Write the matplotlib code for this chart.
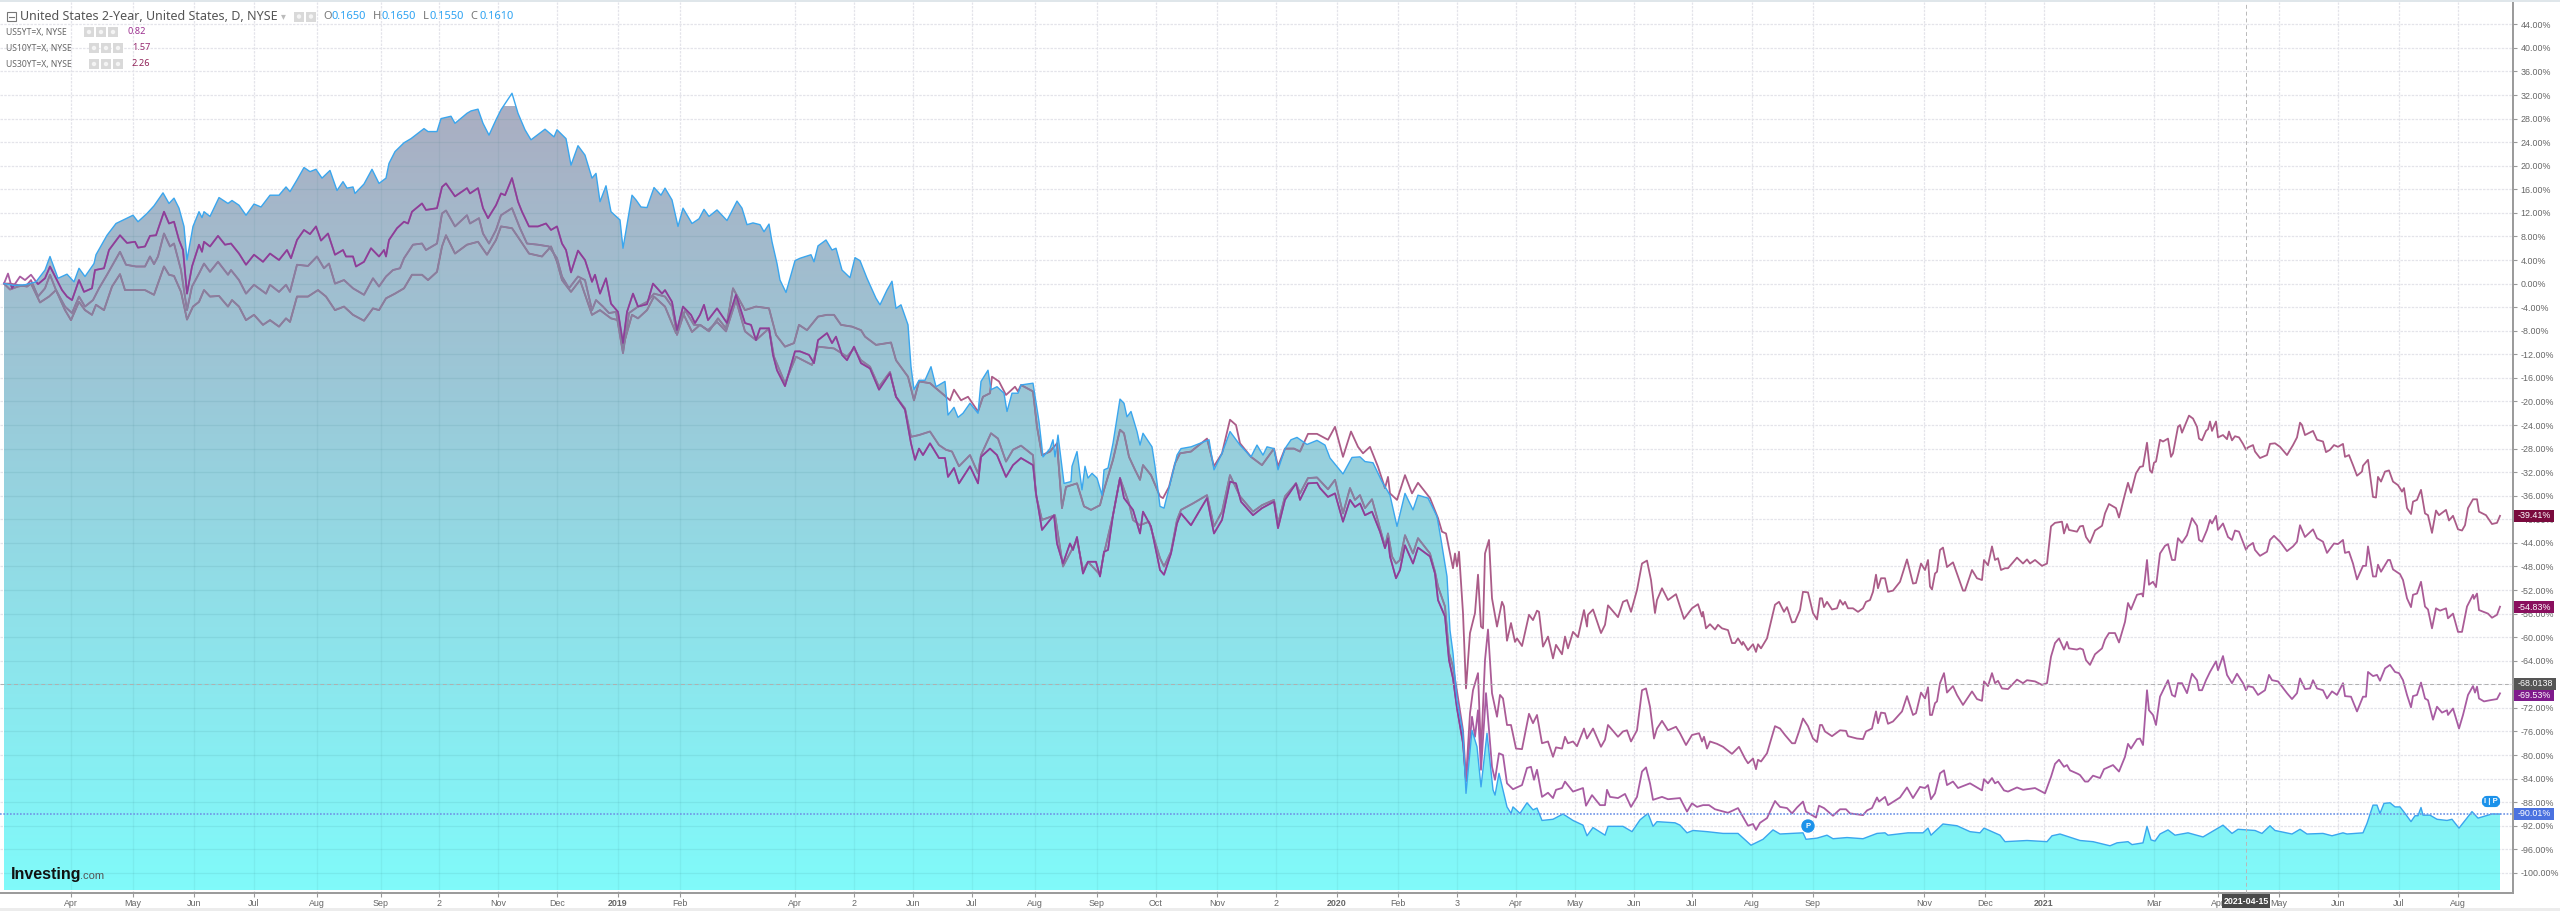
import numpy as np
import matplotlib
matplotlib.use('Agg')
import matplotlib.pyplot as plt
from matplotlib.colors import LinearSegmentedColormap
from matplotlib.patches import Rectangle, Circle, FancyBboxPatch

# (session position, % change)
us2y = np.array([(4,0),(14,-.3),(25,-.2),(36,.3),(45,2.3),(50,4.6),(58,.9),(67,1.6),(74,.3),(79,2.6),(85,1.2),(94,3.4),(96,4.9),(107,8.2),(116,10.2),(133,11.6),(138,10.5),(147,11.9),(154,13.2),(163,15.4),(169,13.6),(174,14.5),(179,12.8),(184,9.7),(187,4),(193,9.7),(199,12.2),(202,11.2),(204,12.2),(210,11.4),(219,14.6),(228,13.6),(232,14.1),(239,13.3),(246,11.6),(254,13.5),(261,13),(270,15),(279,15),(286,16.4),(290,15.6),(297,17.6),(304,19.7),(310,19),(316,19.4),(322,17.9),(330,19.2),(337,15.8),(343,17.3),(347,16.2),(353,16.4),(355,15.3),(364,16.9),(372,19.4),(379,17),(386,17.9),(389,20.4),(395,22.4),(404,23.9),(411,24.6),(424,26.3),(428,25.8),(437,25.8),(441,28),(451,28.4),(455,27.2),(467,28.9),(471,29.3),(478,29.6),(483,27.2),(489,25.2),(496,27.8),(501,29.5),(512,32.3),(518,28.9),(525,26.1),(531,24.4),(545,26.2),(554,24.9),(557,26.1),(566,24.6),(571,20.1),(578,23.4),(585,21.8),(592,17.9),(596,18.7),(600,13.9),(606,16.6),(611,12.2),(620,10.8),(623,6),(632,15),(636,14.2),(641,13),(647,12.9),(654,16.3),(661,15),(665,16.2),(672,14.2),(678,9.7),(683,12.8),(692,10.2),(699,11),
    (704,12.6),(709,11.4),(717,12.5),(727,10.7),(737,14),(742,12.8),(747,10),(753,10.3),(760,10),(764,8.8),(769,10.1),(772,7.1),(777,3.4),(780,.6),(786,-1.5),(795,3.9),(800,4.3),(811,4.9),(814,3.7),(818,6.4),(826,7.4),(832,5.7),(836,6),(842,2.3),(850,1),(855,4.4),(860,3.9),(867,.9),(876,-2.5),(880,-3.6),(887,-1.1),(892,.4),(896,-4.2),(901,-3.6),(908,-7),(911,-14.1),(914,-18),(919,-16.4),(925,-16.4),(931,-14.1),(936,-17.5),(945,-16.6),(948,-22.3),(954,-21),(958,-22.7),(963,-22),(970,-20.3),(978,-22),(981,-16.6),(988,-14.7),(991,-18),(997,-17.5),(1004,-18.6),(1007,-21.7),(1012,-18.6),(1018,-18.6),(1021,-17.2),(1033,-16.9),(1039,-23.4),(1043,-29.4),(1050,-28),(1053,-26.5),(1055,-29.4),(1058,-25.7),(1064,-33.9),(1071,-33.6),(1072,-31),(1077,-28.5),(1082,-35),(1085,-31),(1088,-33),(1092,-32.2),(1097,-33),(1102,-35.9),(1104,-31.6),(1108,-31.3),(1113,-27.1),(1120,-19.6),(1124,-20.3),(1127,-22.6),(1131,-21.7),(1137,-25.1),(1140,-27.4),(1143,-25.4),(1152,-27.7),(1155,-31),(1160,-37.8),(1164,-38.1),(1171,-33.3),(1177,-29.1),(1181,-28),(1191,-27.7),(1209,-26.5),(1214,-31.6),(1222,-28.8),(1230,-25.1),(1240,-27.4),(1251,-29.4),(1257,-27.4),(1263,-29.1),(1267,-27.7),(1274,-28),(1278,-31.6),(1285,-28),(1291,-26.5),(1297,-26.1),
    (1307,-27.3),(1317,-26.6),(1325,-27.4),(1330,-29.6),(1343,-32.3),(1352,-29.5),(1360,-29.4),(1365,-30.2),(1373,-30.4),(1382,-33.6),(1390,-35.9),(1397,-41.2),(1405,-35.6),(1413,-38.4),(1418,-35.9),(1428,-36.4),(1437,-39.5),(1440,-42.4),(1447,-49.7),(1450,-58.8),(1453,-62.7),(1457,-70.7),(1463,-76.3),(1466,-86.5),(1472,-75.8),(1477,-78.6),(1481,-85.4),(1487,-76.3),(1493,-85.9),(1495,-86.8),(1499,-83.1),(1507,-88.8),(1511,-89.9),(1513,-88.8),(1520,-89.9),(1527,-88.1),(1533,-89.3),(1537,-89),(1542,-91.1),(1553,-90.9),(1563,-90),(1573,-91.1),(1583,-91.9),(1587,-93.7),(1593,-92.3),(1605,-93.6),(1608,-92.1),(1623,-92.1),(1632,-93),(1640,-91),(1648,-89.9),(1653,-92.1),(1657,-91.3),(1675,-91.5),
    (1680,-91.9),(1687,-93.2),(1693,-92.8),(1707,-93),(1723,-93.3),(1738,-93.3),(1751,-95.3),(1763,-94.3),(1773,-92.7),(1780,-93.4),(1803,-93.2),(1806,-94.3),(1817,-94.1),(1827,-93.6),(1833,-94.2),(1847,-94),(1863,-94.2),(1877,-93.3),(1885,-93.2),(1888,-93.6),(1908,-93.2),(1923,-93.2),(1928,-92.4),(1931,-93.6),(1943,-91.7),(1957,-92),(1970,-93),(1980,-93.2),(1984,-92.4),(2000,-93.6),(2005,-94.7),(2027,-94.5),(2047,-94.7),(2052,-93.7),(2060,-93.4),
    (2080,-94.5),(2093,-94.7),(2110,-95.4),(2117,-94.9),(2128,-94.7),(2132,-95.2),(2143,-94.9),(2147,-92.1),(2151,-94.4),(2155,-94.6),(2160,-93.4),(2168,-92.7),(2175,-93.6),(2188,-93.2),(2203,-93.9),(2215,-92.7),(2223,-91.9),(2232,-93.3),(2238,-92.6),(2255,-92.8),(2262,-93.3),(2270,-92),(2275,-92.8),(2292,-93.4),(2300,-92.6),(2307,-93.4),(2323,-93.3),(2332,-93.7),(2343,-93.2),(2347,-93.4),(2363,-93.2),(2367,-91.6),(2373,-88.5),(2377,-88.5),(2380,-89.9),(2384,-88.2),(2390,-88.1),(2395,-88.8),(2400,-88.8),(2405,-89.9),(2411,-91.3),(2415,-90.3),(2418,-90.3),(2421,-88.9),(2423,-90.2),(2430,-90.2),(2437,-90.9),(2447,-91.1),(2452,-90.9),(2459,-92.4),(2472,-89.6),(2478,-90.7),(2492,-90),(2500,-90.01)])

us5y = np.array([(4,0),(8,1.7),(12,-.8),(20,1.2),(25,.6),(31,1.5),(38,-.1),(45,.9),(50,2.9),(56,.9),(62,-1.1),(67,-2.2),(72,-2.8),(79,.6),(84,-1.4),(92,-.8),(95,2.3),(104,2.6),(109,5.7),(120,8.2),(127,6.9),(135,7.1),(138,6.1),(145,6.3),(150,8.1),(156,8.2),(164,12.2),(169,10.2),(174,10.5),(179,7.4),(183,5.7),(187,-1.7),(192,2.9),(199,6.6),(202,5.4),(204,7.1),(210,6.3),(218,8.1),(225,6.6),(231,6.8),(239,5.1),(246,3.2),(254,4.9),(263,3.7),(270,5.1),(279,4),(287,5.7),(291,4.3),(297,7.4),(304,9.1),(310,8.4),(316,9.7),(321,7.3),(328,8.5),(335,4.9),(343,5.7),(346,4.6),(353,4.6),(356,2.9),(364,3.7),(371,6),(379,4.6),(384,5.7),(386,4.6),(389,7.4),(397,9.4),(404,10.5),(408,10.2),(412,12.2),(422,13.6),(426,12.5),(437,12.8),(442,16.4),(446,17),(455,14.8),(467,16.2),(470,15.3),(478,16.2),(483,12.8),(488,11.1),(496,13.3),(501,15.3),(505,15),(512,17.9),(518,13.9),(522,12.2),(529,9.7),(538,9.7),(546,10.2),(551,9.1),(557,9.7),(562,6.8),(566,5.7),(571,1.9),(578,5.6),(585,4),(592,.3),(595,1.5),(600,-1.7),(606,.9),(611,-3.4),(618,-4.8),(623,-10.1),(627,-4.8),(633,-1.7),(638,-3.9),(647,-3.5),(653,0),(662,-1.7),(665,-1.1),(672,-3.1),(677,-7.9),(683,-3.9),(691,-5.3),(695,-6.7),
    (700,-5.3),(704,-3.6),(708,-6.2),(717,-4.2),(727,-6.7),(736,-1.9),(745,-6.7),(751,-7),(756,-9.6),(760,-7.6),(769,-7.6),(773,-12.1),(777,-14.7),(785,-17.4),(795,-11.5),(800,-11.5),(809,-12.1),(814,-13.5),(818,-9.6),(827,-8.4),(832,-10.1),(836,-9),(842,-12.1),(847,-13),(854,-10.7),(861,-13.5),(870,-14.4),(879,-18),(890,-15.2),(896,-19.2),(905,-21.4),(911,-27.1),(915,-29.9),(919,-28),(923,-29.1),(930,-27.1),(939,-29.6),(945,-29.6),(948,-32.8),(954,-31.3),(959,-33.9),(970,-31),(978,-33.9),(981,-29.4),(990,-28),(997,-29.1),(1006,-32.8),(1013,-30.8),(1021,-29.6),(1033,-30.8),(1036,-35.6),(1042,-41.8),(1050,-40.1),(1054,-39.3),(1057,-44.1),(1063,-47.5),(1070,-44.1),(1073,-45.2),(1077,-43),(1083,-49.2),(1088,-47.2),(1096,-47.2),(1100,-49.7),(1104,-45.5),(1108,-45.2),(1113,-39.3),(1120,-33),(1124,-36.4),(1133,-38.4),(1140,-42.4),(1143,-38.7),(1151,-41.2),(1160,-48.6),(1164,-49.4),(1171,-45.8),(1177,-40.7),(1181,-39),(1191,-41),(1207,-36.4),(1214,-42.4),(1222,-40.1),(1230,-33.6),(1236,-33.9),(1241,-37),(1253,-39.3),(1262,-38.1),(1274,-37),(1278,-41.5),(1285,-36.7),(1296,-33.9),
    (1300,-36.7),(1308,-33.9),(1317,-33.8),(1320,-34.7),(1328,-36.2),(1335,-35.6),(1343,-40.4),(1350,-36.7),(1355,-37.9),(1360,-37.3),(1365,-39.3),(1372,-38.7),(1380,-42.1),(1385,-44.9),(1388,-43.2),(1390,-46.3),(1396,-50),(1400,-48.6),(1405,-44.4),(1413,-47.5),(1418,-44.8),(1430,-46.3),(1435,-49.2),(1438,-53.7),(1445,-56.5),(1449,-63.9),(1453,-67),(1457,-72.1),(1463,-78),(1466,-84.5),(1472,-73.5),(1475,-76.9),(1478,-72.4),(1481,-82.5),(1486,-69.5),(1492,-82),(1495,-84.2),(1499,-79.7),(1503,-80),(1507,-84.8),(1513,-85.8),(1522,-85.1),(1527,-82.2),(1531,-82),(1534,-84.2),(1537,-82.5),(1542,-87.1),(1548,-86.4),(1553,-87.3),(1556,-85.9),(1562,-85.6),(1565,-84.5),(1573,-86.2),(1583,-85.6),(1586,-88.6),(1592,-86.8),(1600,-88.5),(1605,-88.5),(1607,-85.9),(1610,-87.1),(1618,-87.3),(1625,-86.6),(1631,-88.8),(1637,-87.1),(1642,-82.8),(1646,-82.1),(1650,-84.8),(1653,-87.6),(1662,-87.1),(1668,-87.5),
    (1680,-87.3),(1687,-89.6),(1692,-88.2),(1697,-88.8),(1703,-88.5),(1709,-88.5),(1715,-89.2),(1728,-89.8),(1738,-89),(1748,-92),(1753,-91.7),(1756,-92.7),(1760,-91.5),(1767,-90.7),(1775,-87.8),(1780,-88.8),(1787,-89),(1792,-89.9),(1797,-88.9),(1803,-87.9),(1806,-89.6),(1816,-90.6),(1819,-88.6),(1824,-89),(1833,-90.3),(1840,-89.2),(1846,-89.2),(1850,-89.9),(1863,-90.2),(1867,-89.4),(1872,-89),(1877,-87.2),(1879,-87.9),(1885,-87.1),(1888,-88.5),(1900,-87.2),(1907,-85.5),(1913,-87.3),(1920,-85.4),(1925,-85.6),(1928,-85.1),(1931,-87.5),(1935,-86.5),(1940,-83.1),(1944,-82.6),(1947,-85.1),(1953,-84.5),(1958,-85.6),(1970,-84.8),(1982,-86),(1984,-84.1),(1988,-84.8),(1992,-83.9),(1995,-84.8),(1998,-84.5),(2004,-86),(2008,-86.2),(2017,-85.5),(2023,-85.9),(2035,-85.6),(2045,-86.5),(2051,-83.7),(2055,-81.5),(2059,-80.8),(2064,-82),(2067,-81.7),(2070,-82.6),(2078,-83.2),
    (2080,-83.4),(2085,-84.5),(2088,-84.5),(2093,-83.5),(2100,-83.9),(2104,-82.4),(2113,-81.7),(2119,-82.8),(2125,-80.3),(2128,-78.1),(2131,-78.9),(2137,-77.3),(2140,-77.2),(2143,-78.3),(2147,-69),(2149,-72.4),(2153,-73.2),(2156,-74.9),(2160,-70.1),(2168,-67.3),(2172,-69.8),(2175,-70.1),(2178,-67.8),(2182,-67.8),(2187,-69.5),(2192,-66.2),(2197,-67.3),(2199,-69),(2202,-69),(2206,-67.3),(2210,-65.9),(2216,-64.1),(2218,-65.6),(2223,-63.2),(2227,-66.4),(2232,-67.8),(2237,-66.2),(2243,-67.8),(2246,-69),(2248,-68.3),(2253,-68.5),(2258,-69.8),(2265,-69),(2269,-66.4),(2272,-67.3),(2278,-67.5),(2287,-69.5),(2292,-70.5),(2297,-69.5),(2300,-67),(2305,-68.8),(2310,-68.7),(2313,-67.3),(2317,-68.7),(2323,-69),(2327,-70.4),(2332,-69.2),(2337,-69.8),(2343,-67.8),(2345,-70),(2351,-70.1),(2357,-72.6),(2363,-70.1),(2366,-70.1),(2368,-65.9),(2373,-66.6),(2377,-66.4),(2380,-67.4),(2385,-65.3),(2390,-64.7),(2395,-65.9),(2399,-66.1),(2403,-67.3),(2407,-69.8),(2411,-71.9),(2413,-70),(2417,-69.8),(2421,-67.7),(2425,-70.4),(2428,-70.7),(2433,-74),(2437,-71.8),(2442,-72.8),(2447,-72.4),(2448,-73.2),(2453,-72.1),(2459,-75.5),(2463,-73.2),(2468,-69.8),(2473,-68.3),(2475,-69.4),(2477,-68.4),(2479,-70.4),(2484,-70.9),(2490,-70.7),(2497,-70.5),(2500,-69.53)])

us10y = np.array([(4,0),(10,-1),(18,-.5),(27,-.2),(31,.6),(38,-2.2),(45,-.8),(50,1.5),(56,-1.1),(65,-3.9),(72,-5),(79,-2.2),(85,-3.9),(93,-2.8),(99,-.8),(107,1.5),(120,5.4),(126,3.2),(136,2.9),(145,2.9),(150,4.6),(154,3.3),(158,4.6),(164,8.5),(170,6.3),(174,6.8),(181,2.3),(187,-4.5),(192,-.5),(199,1.7),(204,3.4),(210,2),(218,3.7),(228,1.5),(231,2.3),(239,.6),(246,-1.7),(254,-.2),(266,-1.7),(270,-.2),(279,-1.4),(286,-.2),(290,-1.4),(297,3.2),(308,3),(317,4.6),(324,2.6),(329,3.4),(335,0),(344,.6),(353,-.8),(364,-1.9),(373,.9),(379,-.5),(386,1.2),(393,2.3),(400,2.6),(404,4.3),(413,6.6),(422,6.8),(426,5.7),(437,6.8),(442,11.9),(446,12.4),(455,9.7),(467,11.6),(470,10.2),(479,11.1),(483,8.5),(489,6.8),(496,9.1),(501,11.6),(512,12.8),(520,9.4),(527,6.8),(538,6.6),(549,6.3),(557,4.3),(562,1.2),(569,-.8),(578,1.2),(585,.6),(592,-4.5),(596,-2.8),(603,-3.9),(609,-5),(616,-4.8),(623,-11.8),(629,-5),(638,-3.9),(647,-3.1),(654,-1.7),(665,-2.2),(672,-3.9),(677,-8.7),(685,-4.5),(694,-7),
    (700,-7),(708,-7.9),(717,-6.5),(726,-8.1),(736,-2.8),(745,-8.1),(756,-9.6),(769,-7.6),(774,-12.4),(785,-16.9),(796,-12.4),(812,-13.8),(818,-10.7),(834,-11),(847,-12.4),(854,-11),(861,-13),(870,-14.1),(879,-17.5),(890,-15),(896,-19.2),(905,-21.2),(911,-26),(919,-25.7),(930,-25.1),(939,-27.4),(946,-28.2),(952,-28.5),(959,-31),(970,-29.1),(978,-32.2),(981,-29.1),(991,-25.4),(998,-26.3),(1006,-30.2),(1013,-28.2),(1021,-27.5),(1033,-29.1),(1036,-35.9),(1042,-40.1),(1055,-39.3),(1063,-48),(1077,-43.5),(1083,-48.6),(1088,-47.2),(1100,-49.4),(1104,-45.8),(1113,-39.3),(1120,-33),(1129,-37.3),(1133,-40.1),(1140,-41),(1149,-40.4),(1160,-46.6),(1164,-48),(1171,-45.5),(1177,-40.1),(1181,-38.4),(1193,-37.3),(1207,-35.9),(1214,-41.2),(1222,-38.7),(1230,-32.5),(1240,-36.1),(1253,-38.7),(1262,-37.6),(1274,-36.7),(1278,-40.7),(1285,-36.1),(1296,-33.9),
    (1300,-35.6),(1308,-33),(1317,-32.9),(1328,-34.9),(1335,-33.3),(1343,-39),(1350,-34.7),(1355,-36.7),(1360,-35.9),(1365,-38.1),(1372,-36.6),(1380,-41.5),(1385,-44.6),(1388,-42.4),(1392,-46.3),(1396,-47.5),(1400,-46.9),(1405,-42.7),(1413,-45.8),(1418,-43.2),(1430,-45.8),(1435,-48.9),(1438,-51.4),(1445,-54.8),(1449,-62.7),(1453,-65),(1457,-69.2),(1463,-75.8),(1466,-84.2),(1470,-72.9),(1473,-69),(1478,-66.1),(1481,-79.7),(1485,-63.9),(1488,-58.7),(1492,-69.5),(1497,-73.5),(1500,-69.8),(1503,-70.4),(1507,-74.9),(1511,-74.9),(1516,-78.9),(1522,-79),(1529,-73),(1533,-74.6),(1537,-73.2),(1542,-78),(1548,-77.7),(1553,-80.3),(1556,-78.7),(1562,-78.9),(1565,-76.9),(1568,-78),(1573,-77.7),(1577,-78.5),(1584,-75.5),(1587,-77.2),(1593,-75.5),(1601,-78.6),(1605,-77.4),(1608,-74.9),(1618,-76.9),(1623,-76),(1627,-75.8),(1631,-77.7),(1637,-75.8),(1642,-69),(1646,-68.7),(1650,-71.8),(1654,-77.2),(1657,-75.5),(1662,-74.2),(1668,-75.8),(1676,-75.2),
    (1680,-76.3),(1686,-78.3),(1692,-76.6),(1699,-76.3),(1702,-77.7),(1704,-76.9),(1707,-78.9),(1710,-77.7),(1717,-78.1),(1723,-78.6),(1732,-79.8),(1739,-78.6),(1745,-80.6),(1748,-81.4),(1753,-80.6),(1756,-82.4),(1758,-80.8),(1761,-81.1),(1767,-79.7),(1775,-75.1),(1780,-75.5),(1785,-76.6),(1792,-78),(1795,-78),(1799,-76),(1803,-73.8),(1808,-75.1),(1813,-77.2),(1817,-77.8),(1820,-74.9),(1822,-74.9),(1825,-76),(1832,-76.8),(1840,-75.8),(1846,-75.9),(1848,-76.8),(1857,-77.2),(1863,-77.3),(1866,-76),(1872,-75.5),(1876,-72.6),(1878,-74.6),(1881,-72.8),(1885,-72.9),(1888,-74.7),(1893,-74.3),(1902,-72.6),(1907,-70),(1913,-73.2),(1916,-72.9),(1921,-69.4),(1925,-70.4),(1928,-68.5),(1930,-73.2),(1932,-73.2),(1935,-71.2),(1937,-70.9),(1940,-67.8),(1944,-66.1),(1947,-69.4),(1953,-68.3),(1957,-69.8),(1963,-71.5),(1972,-69.2),(1977,-70.5),(1982,-70.8),(1984,-67.5),(1988,-68.3),(1992,-66.1),(1995,-67.8),(1998,-67.4),(2002,-68.7),(2008,-68.8),(2017,-67.2),(2023,-67.8),(2027,-67.3),(2035,-67.5),(2042,-68.1),(2047,-67.8),(2051,-63.3),(2055,-61),(2059,-60.2),(2064,-62.1),(2067,-60.8),(2069,-61.9),(2077,-62.1),
    (2080,-61.9),(2083,-62.1),(2086,-63.9),(2090,-64.7),(2095,-62.9),(2102,-61.9),(2105,-60.4),(2109,-59.3),(2115,-59.3),(2119,-60.9),(2125,-57.4),(2128,-54.2),(2131,-55.3),(2137,-52.8),(2142,-52.6),(2143,-53.1),(2147,-46.9),(2149,-51.1),(2153,-50.6),(2156,-51.5),(2160,-45.8),(2165,-44.5),(2168,-44.2),(2172,-46.9),(2175,-46.9),(2178,-43.2),(2182,-44),(2187,-42.7),(2192,-39.8),(2197,-41.1),(2199,-43.5),(2202,-43.8),(2207,-41.8),(2210,-40.1),(2212,-40.7),(2216,-39.4),(2218,-41.8),(2223,-40.7),(2228,-43),(2232,-43.5),(2235,-41.9),(2239,-42.1),(2246,-45.2),(2248,-44.6),(2253,-44),(2255,-45.2),(2260,-46.2),(2267,-45.5),(2270,-43.5),(2274,-42.8),(2280,-43.8),(2287,-45.4),(2293,-44.6),(2297,-43.8),(2300,-41),(2305,-43),(2313,-41.7),(2317,-43.2),(2323,-43.8),(2327,-45.7),(2334,-44.1),(2338,-44.2),(2343,-43.5),(2345,-45.7),(2349,-45.5),(2353,-47.5),(2357,-50.2),(2363,-47.9),(2366,-47.9),(2368,-44.6),(2373,-49.7),(2376,-49.7),(2378,-47.7),(2381,-48.9),(2388,-46.9),(2390,-46.9),(2393,-48.5),(2400,-49.3),(2403,-50.3),(2407,-53.4),(2411,-54.9),(2413,-52.8),(2417,-52.6),(2421,-50.6),(2425,-54.8),(2428,-55.3),(2432,-58.5),(2436,-55.1),(2440,-55.5),(2446,-55.1),(2448,-56.8),(2453,-56),(2458,-59.1),(2462,-59.1),(2467,-54.8),(2473,-52.8),(2474,-53.5),(2477,-52.6),(2479,-55.4),(2488,-56),(2492,-56.7),(2497,-56.2),(2500,-54.83)])

us30y = np.array([(4,0),(10,0),(27,-.5),(31,0),(40,-3.2),(49,-2.2),(56,-1.1),(65,-4.5),(71,-6.2),(79,-3.1),(85,-4.5),(92,-5.3),(96,-3.6),(104,-4.5),(112,-.5),(120,1.6),(125,-1.1),(136,-1.1),(145,-1.1),(154,-1.9),(164,2.9),(169,1.5),(174,1.3),(181,-1.4),(187,-6.1),(193,-3.9),(199,-3.1),(204,-1.1),(210,-2.2),(219,-2.1),(228,-3.9),(232,-2.8),(239,-3.9),(246,-6.2),(254,-5.3),(263,-7),(270,-6.2),(279,-7.3),(286,-5.9),(290,-6.5),(297,-2.2),(308,-2.2),(318,-1.1),(326,-2.2),(335,-4.5),(344,-3.9),(353,-5.3),(364,-6.3),(373,-4.2),(379,-4.5),(386,-2.5),(395,-1.7),(404,-.8),(412,1.5),(422,1.5),(428,.6),(437,2),(442,6.3),(446,8.2),(455,5.1),(467,6.6),(478,7.1),(487,4.9),(496,7.4),(501,9.7),(512,9.4),(520,7.4),(529,5.1),(542,4.6),(551,6.3),(557,3.7),(562,.6),(571,-1.4),(580,.6),(592,-5.3),(600,-4.5),(611,-5.9),(618,-6.2),(623,-10.7),(632,-5.3),(638,-5.9),(647,-4.5),(654,-2.2),(665,-3.9),(676,-8.4),(683,-5),(692,-8.2),
    (700,-7),(709,-8.1),(718,-5.9),(726,-7.6),(733,-.8),(745,-4.5),(756,-3.9),(769,-4.2),(776,-8.7),(785,-10.7),(794,-10.1),(799,-7),(807,-7.9),(818,-5.6),(827,-5.3),(834,-5.3),(841,-7),(852,-7.3),(861,-7.9),(865,-9),(876,-10.4),(891,-10),(896,-13),(908,-15.8),(914,-19.8),(919,-16.6),(930,-16.9),(946,-19.2),(950,-19.8),(954,-18),(961,-19.8),(968,-19.2),(978,-21.7),(983,-19.2),(990,-18.6),(992,-15.8),(999,-16.6),(1006,-18.9),(1015,-17.5),(1018,-18.3),(1021,-17.2),(1033,-18.3),(1037,-24.3),(1042,-29.1),(1050,-28.5),(1057,-27.1),(1062,-38.1),(1066,-34.5),(1077,-33.9),(1084,-37.8),(1091,-38.4),(1100,-37.6),(1104,-35),(1113,-29.9),(1120,-24.8),(1124,-25.4),(1129,-29.4),(1135,-31.6),(1140,-33.3),(1143,-30.8),(1151,-32.5),(1160,-36.1),(1163,-36.4),(1169,-34.5),(1175,-30.5),(1180,-28.8),(1191,-28.5),(1207,-26.3),(1214,-31),(1222,-28.8),(1230,-23.1),(1236,-24),(1240,-27.1),(1251,-29.4),(1262,-30.8),(1274,-28),(1278,-31),(1285,-28),(1294,-28),
    (1300,-28.5),(1308,-25.5),(1317,-25.5),(1328,-26.5),(1335,-24.3),(1343,-29.4),(1351,-25.1),(1358,-27.7),(1363,-28.8),(1370,-27.7),(1378,-31.1),(1385,-34.7),(1388,-32.8),(1390,-35.6),(1397,-36.7),(1405,-32.5),(1412,-35.6),(1418,-33.8),(1430,-36.4),(1438,-39.8),(1442,-42.1),(1446,-42.4),(1453,-48.3),(1455,-45.8),(1457,-48),(1459,-45.5),(1463,-55.9),(1466,-68.7),(1470,-59.3),(1475,-55.9),(1478,-49.4),(1481,-58.2),(1483,-58.5),(1485,-45.8),(1489,-43.5),(1492,-53.4),(1497,-58.2),(1502,-54),(1504,-54.8),(1507,-60.6),(1511,-57.6),(1515,-60.8),(1517,-60.2),(1522,-61.5),(1529,-56.2),(1533,-57.1),(1537,-55.5),(1539,-55.7),(1543,-61.6),(1548,-59.9),(1553,-63.6),(1556,-61.3),(1562,-62.9),(1565,-59.9),(1568,-61.9),(1573,-59.1),(1578,-60),(1584,-55.4),(1587,-58.2),(1588,-56.2),(1593,-55.3),(1601,-59.3),(1605,-57.9),(1608,-54.6),(1618,-56.6),(1623,-54),(1627,-53.7),(1631,-55.7),(1637,-52),(1642,-47.5),(1647,-47),(1651,-50.3),(1655,-55.9),(1657,-53.7),(1662,-51.7),(1668,-53.7),(1676,-52.7),
    (1680,-54.8),(1684,-56.9),(1692,-55.1),(1698,-54.4),(1702,-56.5),(1703,-55.7),(1706,-58.5),(1710,-57.8),(1715,-58.7),(1718,-57.9),(1722,-58.5),(1728,-58.8),(1732,-61),(1735,-61),(1738,-60.2),(1742,-61.3),(1743,-60.8),(1748,-62.2),(1753,-61.2),(1756,-62.5),(1758,-61.2),(1761,-61.9),(1767,-60.2),(1775,-54.5),(1779,-54),(1784,-55.7),(1787,-54.9),(1792,-57.5),(1795,-57.4),(1800,-55.4),(1803,-52.3),(1808,-52.4),(1813,-55.9),(1817,-57),(1820,-53.4),(1822,-53.4),(1824,-54.9),(1827,-54),(1832,-55.3),(1837,-55.1),(1840,-53.7),(1843,-54.5),(1845,-54),(1848,-55.1),(1853,-55.1),(1858,-55.7),(1863,-55.1),(1866,-54),(1870,-53.7),(1873,-52.3),(1876,-49.4),(1878,-51.7),(1881,-50),(1885,-50),(1888,-52.3),(1893,-52.1),(1900,-50.6),(1907,-46.8),(1913,-50.9),(1916,-50.8),(1921,-47.5),(1925,-48.6),(1928,-46.9),(1930,-51.4),(1932,-51.9),(1935,-49.2),(1937,-48.9),(1940,-45.2),(1943,-44.8),(1947,-48.1),(1953,-47.3),(1957,-49.2),(1963,-52.1),(1965,-52.1),(1972,-48.6),(1977,-50),(1982,-50.3),(1984,-46.9),(1988,-47.8),(1992,-44.6),(1995,-46.9),(1998,-46.6),(2001,-48.6),(2005,-48.3),(2008,-48.3),(2017,-46.5),(2023,-47.5),(2027,-46.8),(2030,-47.5),(2035,-46.9),(2042,-47.9),(2047,-47.5),(2051,-41.2),(2055,-40.6),(2062,-40.4),(2064,-42.4),(2067,-40.8),(2069,-41.8),(2077,-42.1),
    (2080,-41.2),(2083,-41.1),(2086,-43),(2090,-44),(2095,-41.9),(2102,-41.1),(2105,-39),(2109,-37.4),(2116,-38.1),(2119,-39.7),(2125,-35.7),(2128,-33.8),(2131,-35.5),(2136,-32.2),(2140,-31.1),(2143,-31),(2147,-27),(2150,-31.7),(2152,-32.1),(2154,-30.4),(2156,-30.2),(2160,-26.5),(2163,-26.8),(2168,-26.3),(2171,-29.4),(2173,-28.8),(2178,-24.3),(2180,-24),(2182,-25.3),(2189,-22.4),(2193,-22.9),(2197,-24.3),(2199,-26.3),(2202,-26.6),(2206,-25),(2208,-24.7),(2210,-23.4),(2212,-25),(2216,-23.4),(2218,-26.1),(2223,-25.7),(2227,-26.4),(2229,-25.1),(2232,-26.6),(2235,-25.9),(2239,-26.1),(2243,-27.2),(2246,-28.2),(2248,-27.8),(2253,-27.4),(2255,-28.5),(2260,-29.6),(2267,-29.1),(2270,-27.2),(2275,-27.1),(2280,-27.7),(2287,-29.1),(2293,-27.4),(2297,-26.1),(2300,-23.6),(2302,-24),(2305,-25.7),(2313,-25),(2317,-26.5),(2323,-26.8),(2326,-28.6),(2330,-28.2),(2334,-27.4),(2338,-27.7),(2343,-27.2),(2345,-29.4),(2349,-29.1),(2353,-30.8),(2357,-32.6),(2362,-31.9),(2363,-30.9),(2368,-29.9),(2373,-36.2),(2376,-36.3),(2378,-32.8),(2381,-33.6),(2385,-31.9),(2389,-31.7),(2393,-33.6),(2398,-34.2),(2402,-35.3),(2404,-34.7),(2407,-38.1),(2411,-39.1),(2413,-37),(2417,-36.7),(2421,-35),(2425,-39),(2428,-39.3),(2432,-42.3),(2436,-38.5),(2439,-39.3),(2446,-38.4),(2449,-40.2),(2453,-39.4),(2458,-41.7),(2462,-41.9),(2465,-41),(2468,-38.1),(2473,-36.6),(2477,-36.6),(2479,-38.7),(2486,-39.3),(2492,-40.8),(2497,-40.6),(2500,-39.41)])

month_pos = [71,133,194,254,317,381,439,498,557,618,680,795,854,913,972,1035,1097,1156,1217,1276,1337,1398,1457,1516,1575,1634,1692,1752,1813,1924,1985,2044,2154,2218,2279,2338,2399,2458]
month_lab = ['Apr','May','Jun','Jul','Aug','Sep','2','Nov','Dec','2019','Feb','Apr','2','Jun','Jul','Aug','Sep','Oct','Nov','2','2020','Feb','3','Apr','May','Jun','Jul','Aug','Sep','Nov','Dec','2021','Mar','Apr','May','Jun','Jul','Aug']
pct_ticks = list(range(44, -101, -4))

W, H = 2560, 911
plt.rcParams['font.family'] = ['Liberation Sans', 'DejaVu Sans']
fig = plt.figure(figsize=(W/100, H/100), dpi=100, facecolor='white')
ax = fig.add_axes([0, (H-893)/H, 2513/W, 891/H])
y_top = (283.6-2)/5.893
y_bot = (283.6-893)/5.893
for s in ['top', 'left']:
    ax.spines[s].set_visible(False)
for s in ['right', 'bottom']:
    ax.spines[s].set_color('#9a9a9a')
    ax.spines[s].set_linewidth(1.4)

ax.yaxis.tick_right()
ax.set_yticks(pct_ticks)
ax.set_yticklabels(['%.2f%%' % p for p in pct_ticks], fontsize=6.4, color='#666666')
ax.set_xticks(month_pos)
ax.set_xticklabels(month_lab, fontsize=6.4, color='#666666')
for lab in ax.get_xticklabels():
    if lab.get_text() in ('2019', '2020', '2021'):
        lab.set_fontweight('bold')
ax.tick_params(axis='both', length=3, width=0.8, color='#999999', pad=2.5)
ax.tick_params(axis='x', pad=1.5)
ax.grid(True, color='#e4e4ea', lw=0.9, ls=(0, (2, 1)))
ax.set_axisbelow(True)

fill_floor = (283.6-890)/5.893
poly = ax.fill_between(us2y[:,0], us2y[:,1], fill_floor, facecolor='none', edgecolor='none')
clip = poly.get_paths()[0]
cmap = LinearSegmentedColormap.from_list('area', ['#aaaec2', '#9cc6d6', '#8fe2ea', '#80fafa'])
grad = np.linspace(0, 1, 256).reshape(-1, 1)
im = ax.imshow(grad, cmap=cmap, aspect='auto', extent=[0, 2513, fill_floor, 30], zorder=1, origin='upper')
im.set_clip_path(clip, transform=ax.transData)
ax.set_xlim(0, 2513)
ax.set_ylim(y_bot, y_top)

# grid shows only faintly through the area
for p in pct_ticks:
    g = ax.axhline(p, color='#2a6f78', alpha=0.10, lw=0.9, zorder=2)
    g.set_clip_path(clip, transform=ax.transData)
for m in month_pos:
    g = ax.axvline(m, color='#2a6f78', alpha=0.08, lw=0.9, zorder=2)
    g.set_clip_path(clip, transform=ax.transData)

# overlays: muted where they run under the area, brighter on white
line_col = {'us30y': '#ab5c88', 'us10y': '#ab5c96', 'us5y': '#a85ca2'}
for name, d, under in [('us30y', us30y, '#85829f'), ('us10y', us10y, '#85829f'), ('us5y', us5y, '#8b3f99')]:
    ax.plot(d[:,0], d[:,1], color=line_col[name], lw=1.3, zorder=4, solid_joinstyle='round')
    l2, = ax.plot(d[:,0], d[:,1], color=under, lw=1.15, zorder=5, solid_joinstyle='round')
    l2.set_clip_path(clip, transform=ax.transData)
ax.plot(us2y[:,0], us2y[:,1], color='#3aa6ee', lw=1.0, zorder=6)

ax.axhline(-90.01, color='#6f94e6', lw=1.2, ls=(0, (1, 1)), zorder=7)
ax.axhline(-68.0138, color='#b0b0b0', lw=0.7, ls=(0, (4, 3)), zorder=7)
ax.axvline(2246, color='#b8b8b8', lw=0.7, ls=(0, (4, 3)), zorder=7)

# everything else sits in pixel coordinates on a full-figure axes
ov = fig.add_axes([0, 0, 1, 1], facecolor='none')
ov.set_xlim(0, W)
ov.set_ylim(H, 0)
ov.axis('off')
ov.add_patch(Rectangle((0, 908), W, 3, color='#ececec', lw=0))
ov.add_patch(Rectangle((0, 0), W, 1.5, color='#dfe6ea', lw=0))

def buttons(x, y, n, size):
    for i in range(n):
        ov.add_patch(Rectangle((x+i*(size+2), y-size/2), size, size, color='#d9d9d9', lw=0))
        ov.add_patch(Circle((x+i*(size+2)+size/2, y), size*0.22, color='#f4f4f4', lw=0))

ui = ['Noto Sans', 'DejaVu Sans']
ov.add_patch(Rectangle((7, 12), 9, 9, fill=False, ec='#777777', lw=0.8))
ov.plot([9, 14], [16.5, 16.5], color='#777777', lw=0.8)
ov.text(20, 16.5, 'United States 2-Year, United States, D, NYSE', fontsize=9, color='#555555', va='center', family=ui)
ov.text(283, 16.5, '▾', fontsize=7, color='#bbbbbb', va='center', ha='center', family=['DejaVu Sans'])
buttons(294, 16.5, 2, 10)
for x0, pre, val in [(323, 'O', '0.1650'), (373, 'H', '0.1650'), (423, 'L', '0.1550'), (470, 'C', '0.1610')]:
    ov.text(x0, 16.5, pre, fontsize=8, color='#777777', va='center', family=ui)
    off = 6 if pre == 'L' else 9
    ov.text(x0+off, 16.5, val, fontsize=8, color='#2ea3f2', va='center', family=ui)

sub = [('US5YT=X, NYSE', 32, 84, '0.82', 127, '#9b2d8e'), ('US10YT=X, NYSE', 48, 89, '1.57', 132, '#96296f'), ('US30YT=X, NYSE', 64, 89, '2.26', 132, '#8f1f55')]
for name, y, bx, val, vx, col in sub:
    ov.text(6, y, name, fontsize=6.2, color='#666666', va='center', family=ui)
    buttons(bx, y, 3, 10)
    ov.text(vx, y, val, fontsize=6.6, color=col, va='center', family=ui)

ov.text(11, 875, 'Investing', fontsize=11.5, fontweight='bold', color='#111111', va='center', ha='left')
ov.text(80, 876, '.com', fontsize=8, color='#555555', va='center', ha='left')

badges = [(516, '-39.41%', '#7a0a3d'), (607, '-54.83%', '#8a0f5e'), (695, '-69.53%', '#7f1a8c'), (684, '-68.0138', '#555555'), (814, '-90.01%', '#4b72e0')]
for y, txt, col in badges:
    w = 42 if txt.startswith('-68') else 40
    ov.add_patch(Rectangle((2514, y-6), w, 12, color=col, lw=0, zorder=5))
    ov.text(2518, y, txt, fontsize=6.4, color='white', va='center', zorder=6)

ov.add_patch(Rectangle((2222, 894), 48, 14, color='#4a4a4a', lw=0, zorder=5))
ov.text(2246, 901, '2021-04-15', fontsize=6.4, color='white', fontweight='bold', va='center', ha='center', zorder=6)

ov.add_patch(Circle((1808, 826), 6, color='#1c92ea', zorder=8))
ov.text(1808, 826, 'P', fontsize=5.5, color='white', fontweight='bold', va='center', ha='center', zorder=9)
ov.add_patch(FancyBboxPatch((2484, 798), 14, 7, boxstyle='round,pad=0,rounding_size=3', color='#1c92ea', lw=3, zorder=8))
ov.text(2491, 801.5, 'I | P', fontsize=5.5, color='white', fontweight='bold', va='center', ha='center', zorder=9)

fig.savefig('out.png', dpi=100)
